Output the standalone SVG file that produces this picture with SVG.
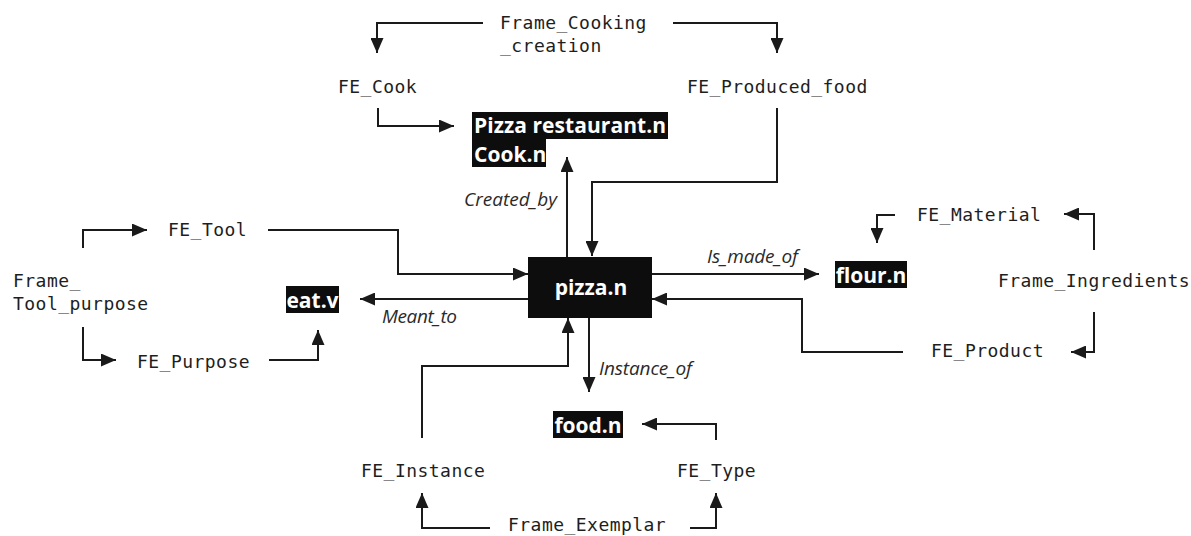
<svg xmlns="http://www.w3.org/2000/svg" width="1191" height="536" viewBox="0 0 1191 536">
  <style>
    .mono { font-family: "DejaVu Sans Mono", "Liberation Mono", monospace; font-size: 18px; letter-spacing: 0.46px; fill: #1e1e1e; }
    .lex { font-family: "Open Sans", "Noto Sans", "Liberation Sans", sans-serif; font-size: 21px; font-weight: bold; fill: #ffffff; }
    .rel { font-family: "Open Sans", "Noto Sans", "Liberation Sans", sans-serif; font-size: 19px; font-style: italic; fill: #2a2a2a; }
    .hl { fill: #0d0d0d; }
    .conn path { fill: none; stroke: #1a1a1a; stroke-width: 2; marker-end: url(#arrow); }
  </style>
  <defs>
    <marker id="arrow" markerUnits="userSpaceOnUse" markerWidth="16" markerHeight="13" refX="15" refY="6.5" orient="auto">
      <path d="M0,0 L15,6.5 L0,13 z" fill="#1a1a1a"/>
    </marker>
  </defs>
  <rect x="0" y="0" width="1191" height="536" fill="#ffffff"/>

  <g id="connectors" class="conn">
    <path d="M483,23 H377 V53"/>
    <path d="M673,23 H777 V53"/>
    <path d="M378,108 V126 H454"/>
    <path d="M777,108 V182 H592 V256"/>
    <path d="M567,257 V157"/>
    <path d="M83,248 V230 H147"/>
    <path d="M83,327 V360 H116"/>
    <path d="M268,230 H398 V274 H528"/>
    <path d="M269,360 H318 V330"/>
    <path d="M528,299 H360"/>
    <path d="M652,274 H819"/>
    <path d="M1094,250 V214 H1064"/>
    <path d="M895,215 H877 V243"/>
    <path d="M1094,312 V352 H1071"/>
    <path d="M903,352 H802 V299 H652"/>
    <path d="M589,318 V392"/>
    <path d="M422,438 V366 H568 V318"/>
    <path d="M716,440 V424 H642"/>
    <path d="M490,528 H422 V493"/>
    <path d="M690,528 H716 V493"/>
  </g>

  <g id="rel-labels">
    <text class="rel" x="464" y="206" textLength="93">Created_by</text>
    <text class="rel" x="382" y="323" textLength="75">Meant_to</text>
    <text class="rel" x="707" y="263" textLength="91">Is_made_of</text>
    <text class="rel" x="599" y="375" textLength="93">Instance_of</text>
  </g>

  <g id="frame-cooking-creation">
    <text class="mono" x="500" y="29">Frame_Cooking</text>
    <text class="mono" x="500" y="52">_creation</text>
  </g>
  <g id="fe-cook"><text class="mono" x="338" y="93">FE_Cook</text></g>
  <g id="fe-produced-food"><text class="mono" x="687" y="93">FE_Produced_food</text></g>

  <g id="pizza-restaurant-cook">
    <rect class="hl" x="472" y="112" width="196" height="27"/>
    <rect class="hl" x="472" y="138" width="74" height="29"/>
    <text class="lex" x="474" y="133" textLength="192">Pizza restaurant.n</text>
    <text class="lex" x="474" y="162">Cook.n</text>
  </g>

  <g id="pizza">
    <rect class="hl" x="528" y="257" width="124" height="61"/>
    <text class="lex" x="591" y="295" text-anchor="middle">pizza.n</text>
  </g>

  <g id="frame-tool-purpose">
    <text class="mono" x="13" y="287">Frame_</text>
    <text class="mono" x="13" y="310">Tool_purpose</text>
  </g>
  <g id="fe-tool"><text class="mono" x="168" y="236">FE_Tool</text></g>
  <g id="fe-purpose"><text class="mono" x="137" y="368">FE_Purpose</text></g>

  <g id="eat">
    <rect class="hl" x="286" y="286" width="53" height="27"/>
    <text class="lex" x="312.5" y="308" text-anchor="middle">eat.v</text>
  </g>

  <g id="flour">
    <rect class="hl" x="835" y="261" width="72" height="27"/>
    <text class="lex" x="871" y="283" text-anchor="middle">flour.n</text>
  </g>

  <g id="fe-material"><text class="mono" x="917" y="221">FE_Material</text></g>
  <g id="frame-ingredients"><text class="mono" x="998" y="287">Frame_Ingredients</text></g>
  <g id="fe-product"><text class="mono" x="931" y="357">FE_Product</text></g>

  <g id="food">
    <rect class="hl" x="553" y="411" width="70" height="27"/>
    <text class="lex" x="588" y="433" text-anchor="middle">food.n</text>
  </g>

  <g id="fe-instance"><text class="mono" x="361" y="477">FE_Instance</text></g>
  <g id="fe-type"><text class="mono" x="677" y="477">FE_Type</text></g>
  <g id="frame-exemplar"><text class="mono" x="508" y="531">Frame_Exemplar</text></g>
</svg>
